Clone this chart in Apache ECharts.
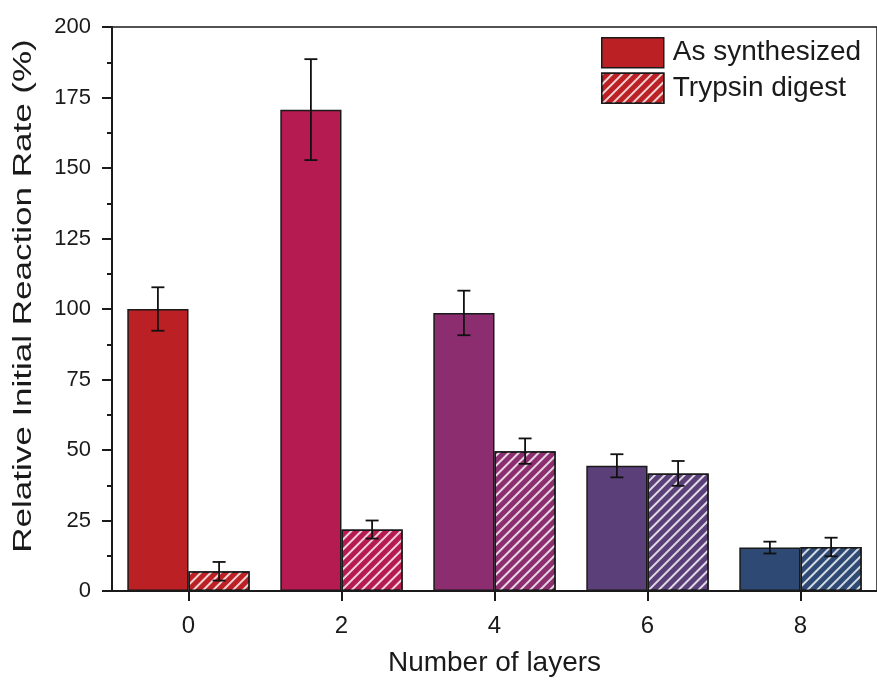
<!DOCTYPE html>
<html>
<head>
<meta charset="utf-8">
<script src="https://cdn.jsdelivr.net/npm/echarts@6/dist/echarts.min.js"></script>
<style>
  html, body { margin: 0; padding: 0; background: #fff; }
  #chart { width: 877px; height: 682px; }
</style>
</head>
<body>
<div id="chart"></div>
<script>
// Number of layers (categories)
var layers = ['0', '2', '4', '6', '8'];
// Relative initial reaction rate (%), mean values
var asSynthesized = [100, 170.7, 98.6, 44.4, 15.4];
var trypsinDigest = [7.0, 21.8, 49.6, 41.7, 15.6];
// Error bar half-widths (%)
var asSynthesizedErr = [7.7, 17.9, 7.9, 4.1, 2.1];
var trypsinDigestErr = [3.3, 3.2, 4.5, 4.4, 3.3];
// Y axis ticks
var yTicks = [0, 25, 50, 75, 100, 125, 150, 175, 200];

var layerColors = ['#bb2024', '#b51a50', '#8b2d6f', '#5a3f79', '#2e4a74'];
var FONT = '"Liberation Sans", Arial, Helvetica, sans-serif';
var INK = '#1a1a1a';

var chart = echarts.init(document.getElementById('chart'), null, { renderer: 'canvas' });

function barData(values) {
  return values.map(function (v, i) {
    return { value: v, itemStyle: { color: layerColors[i] } };
  });
}

function errData(values, errs) {
  return values.map(function (v, i) { return [i, v - errs[i], v + errs[i]]; });
}

// Error bars drawn on top of each bar; side = -1 for the left bar, +1 for the right bar
function errorRenderer(side) {
  return function (params, api) {
    var idx = api.value(0);
    var lo = api.coord([idx, api.value(1)]);
    var hi = api.coord([idx, api.value(2)]);
    var band = api.size([1, 0])[0];
    var x = lo[0] + side * band * 0.2;
    var cap = 6.5;
    var style = { stroke: '#111', lineWidth: 1.8, fill: null };
    return {
      type: 'group',
      children: [
        { type: 'line', shape: { x1: x, y1: lo[1], x2: x, y2: hi[1] }, style: style },
        { type: 'line', shape: { x1: x - cap, y1: lo[1], x2: x + cap, y2: lo[1] }, style: style },
        { type: 'line', shape: { x1: x - cap, y1: hi[1], x2: x + cap, y2: hi[1] }, style: style }
      ]
    };
  };
}

// White diagonal hatching for the digested samples
var hatch = {
  symbol: 'rect',
  symbolSize: 1,
  color: 'rgba(255,255,255,0.8)',
  dashArrayX: [1, 0],
  dashArrayY: [1.6, 4.2],
  rotation: -Math.PI / 4
};

var option = {
  animation: false,
  backgroundColor: '#ffffff',
  textStyle: { fontFamily: FONT, color: INK },
  grid: {
    left: 112, top: 27, width: 772, height: 568,
    show: true, borderColor: INK, borderWidth: 1.5, backgroundColor: 'transparent'
  },
  legend: {
    orient: 'vertical',
    left: 601, top: 37,
    padding: 0,
    icon: 'rect',
    itemWidth: 62, itemHeight: 30, itemGap: 4,
    textStyle: { fontFamily: FONT, fontSize: 28, color: INK, padding: [0, 0, 0, 4] },
    data: [
      { name: 'As synthesized', itemStyle: { color: layerColors[0], borderColor: '#1a1a1a', borderWidth: 1.5 } },
      { name: 'Trypsin digest', itemStyle: { color: layerColors[0], borderColor: '#1a1a1a', borderWidth: 1.5, decal: hatch } }
    ]
  },
  xAxis: {
    type: 'category',
    data: layers,
    name: 'Number of layers',
    nameLocation: 'middle',
    nameGap: 58,
    nameTextStyle: { fontFamily: FONT, fontSize: 28, color: INK },
    axisLine: { show: true, lineStyle: { color: INK, width: 2 } },
    axisTick: { show: true, alignWithLabel: true, length: 10, lineStyle: { color: INK, width: 2 } },
    axisLabel: { fontFamily: FONT, fontSize: 24, color: INK, margin: 23 },
    splitLine: { show: false }
  },
  yAxis: {
    type: 'value',
    min: yTicks[0],
    max: yTicks[yTicks.length - 1],
    interval: yTicks[1] - yTicks[0],
    axisLine: { show: true, lineStyle: { color: INK, width: 2 } },
    axisTick: { show: true, length: 10, lineStyle: { color: INK, width: 2 } },
    minorTick: { show: true, splitNumber: 2, length: 5, lineStyle: { color: INK, width: 2 } },
    axisLabel: { fontFamily: FONT, fontSize: 22, color: INK, margin: 21 },
    splitLine: { show: false }
  },
  graphic: [{
    type: 'text',
    x: 24, y: 296,
    rotation: Math.PI / 2,
    scaleX: 1.4, scaleY: 1,
    style: {
      text: 'Relative Initial Reaction Rate (%)',
      font: '25px "Liberation Sans", Arial, sans-serif',
      fill: INK,
      align: 'center', verticalAlign: 'middle',
      textAlign: 'center', textVerticalAlign: 'middle'
    }
  }],
  series: [
    {
      name: 'As synthesized',
      type: 'bar',
      barWidth: '40%',
      barGap: '0%',
      itemStyle: { color: layerColors[0], borderColor: '#1a1a1a', borderWidth: 1.5 },
      data: barData(asSynthesized),
      z: 2
    },
    {
      name: 'Trypsin digest',
      type: 'bar',
      barWidth: '40%',
      barGap: '0%',
      itemStyle: { color: layerColors[0], borderColor: '#1a1a1a', borderWidth: 1.5, decal: hatch },
      data: barData(trypsinDigest),
      z: 2
    },
    {
      name: 'As synthesized error',
      type: 'custom',
      renderItem: errorRenderer(-1),
      data: errData(asSynthesized, asSynthesizedErr),
      encode: { x: 0, y: [1, 2] },
      z: 5
    },
    {
      name: 'Trypsin digest error',
      type: 'custom',
      renderItem: errorRenderer(1),
      data: errData(trypsinDigest, trypsinDigestErr),
      encode: { x: 0, y: [1, 2] },
      z: 5
    }
  ]
};

chart.setOption(option);
</script>
</body>
</html>
